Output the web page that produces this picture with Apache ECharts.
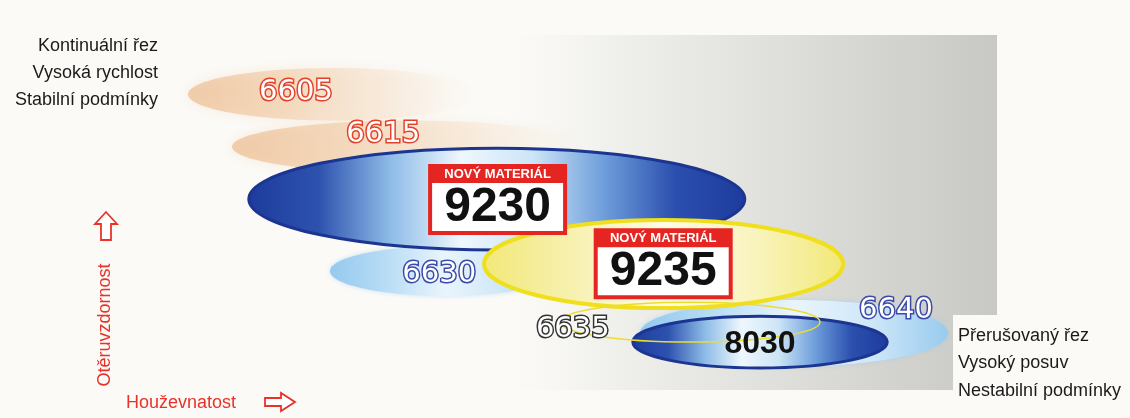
<!DOCTYPE html>
<html>
<head>
<meta charset="utf-8">
<script src="https://cdn.jsdelivr.net/npm/echarts@6/dist/echarts.min.js"></script>
<style>
  html, body { margin: 0; padding: 0; background: #fbfaf7; }
  #chart { width: 1130px; height: 418px; }
</style>
</head>
<body>
<div id="chart"></div>
<script>
// grades in drawing order (back to front)
const grades = ['6605', '6615', '6630', '9230', '6640', '9235', '8030', '6635'];
const families = ['orange', 'orange', 'lightblue', 'blue', 'lightblue', 'yellow', 'blue', 'ring'];
const isNew = [false, false, false, true, false, true, false, false];
// extent of each grade: toughness (x) and wear resistance (y), 0..100
const toughMin = [1, 6.5, 18.75, 8.6, 57.5, 38, 56.6, 47.5];
const toughMax = [37.5, 51, 47.5, 70.6, 96, 82.9, 88.4, 80];
const wearMin = [77, 62, 26.9, 40, 6.8, 23.4, 6.3, 13.7];
const wearMax = [92, 77, 41.1, 69.1, 25.7, 48.6, 21.1, 25.1];
// where the grade name sits
const labelX = [14.5, 25.4, 32.4, 39.7, 89.5, 60.4, 72.5, 49.1];
const labelY = [85.1, 73, 32.9, 54.4, 22.6, 36.1, 13.1, 17.4];

const topText = ['Kontinuální řez', 'Vysoká rychlost', 'Stabilní podmínky'];
const bottomText = ['Přerušovaný řez', 'Vysoký posuv', 'Nestabilní podmínky'];
const xName = 'Houževnatost';
const yName = 'Otěruvzdornost';
const newTag = 'NOVÝ MATERIÁL';

const grad = stops => ({type: 'linear', x: 0, y: 0, x2: 1, y2: 0, colorStops: stops.map((c, k) => ({offset: k / (stops.length - 1), color: c}))});

const familyStyle = {
    orange: {
        fill: grad(['rgba(236,188,144,0.7)', 'rgba(240,200,160,0.55)', 'rgba(243,214,184,0.3)', 'rgba(248,232,215,0)']),
        shadowBlur: 12, shadowColor: 'rgba(238,195,150,0.45)',
    },
    lightblue: {
        fill: grad(['#95c9ee', '#b9ddf5', '#e9f5fc', '#cfe7f8', '#98cbef']),
        shadowBlur: 5, shadowColor: 'rgba(150,200,240,0.5)',
    },
    blue: {
        fill: grad(['#1d3b9c', '#2d52ae', '#8dbbe7', '#eef7fd', '#cde5f7', '#6e9edb', '#2b4fae', '#1d3b9c']),
        stroke: '#1b3591', lineWidth: 3,
    },
    yellow: {
        fill: grad(['#f2e878', '#f7f1b0', '#fdfbe4', '#f9f4be', '#f2e878']),
        stroke: '#f0df1c', lineWidth: 4,
    },
    ring: {
        fill: 'none', stroke: '#eedc2c', lineWidth: 1.5,
    },
};

const outline = {
    '6605': '#e4412b', '6615': '#e4412b', '6630': '#3b4aa8',
    '6640': '#3b4aa8', '6635': '#333333',
};

const chart = echarts.init(document.getElementById('chart'));

const option = {
    backgroundColor: '#fbfaf7',
    animation: false,
    grid: {left: 180, right: 150, top: 40, bottom: 28},
    xAxis: {type: 'value', min: 0, max: 100, show: false},
    yAxis: {type: 'value', min: 0, max: 100, show: false},
    graphic: [
        // grey panel behind the grades
        {
            type: 'polygon', z: 0, silent: true,
            shape: {points: [[480, 35], [997, 35], [997, 315], [953, 315], [953, 390], [480, 390]]},
            style: {fill: grad(['rgba(251,250,247,0)', '#f0f0ec', '#e3e3df', '#d5d5d1', '#c8c9c5'])},
        },
        ...topText.map((t, k) => ({
            type: 'text', z: 5, x: 158, y: 46 + k * 27,
            style: {text: t, fill: '#1a1a1a', font: '18px "Liberation Sans", Arial', align: 'right', verticalAlign: 'middle'},
        })),
        ...bottomText.map((t, k) => ({
            type: 'text', z: 5, x: 958, y: 336 + k * 27.5,
            style: {text: t, fill: '#1a1a1a', font: '18px "Liberation Sans", Arial', align: 'left', verticalAlign: 'middle'},
        })),
        {
            type: 'text', z: 5, x: 105, y: 325, rotation: Math.PI / 2,
            style: {text: yName, fill: '#e8332a', font: '18px "Liberation Sans", Arial', align: 'center', verticalAlign: 'middle'},
        },
        {
            type: 'text', z: 5, x: 126, y: 403,
            style: {text: xName, fill: '#e8332a', font: '18px "Liberation Sans", Arial', align: 'left', verticalAlign: 'middle'},
        },
        {
            type: 'polygon', z: 5,
            shape: {points: [[106, 212], [117, 224], [111, 224], [111, 240], [101, 240], [101, 224], [95, 224]]},
            style: {fill: '#fff', stroke: '#e8332a', lineWidth: 1.8},
        },
        {
            type: 'polygon', z: 5,
            shape: {points: [[265, 398], [281, 398], [281, 393], [295, 402], [281, 411], [281, 406], [265, 406]]},
            style: {fill: '#fff', stroke: '#e8332a', lineWidth: 1.8},
        },
    ],
    series: [
        {
            type: 'custom',
            z: 2,
            silent: true,
            data: grades.map((g, i) => [toughMin[i], toughMax[i], wearMin[i], wearMax[i]]),
            renderItem: (params, api) => {
                const i = params.dataIndex;
                const p0 = api.coord([api.value(0), api.value(3)]);
                const p1 = api.coord([api.value(1), api.value(2)]);
                const st = familyStyle[families[i]];
                return {
                    type: 'ellipse',
                    z2: i,
                    shape: {cx: (p0[0] + p1[0]) / 2, cy: (p0[1] + p1[1]) / 2, rx: (p1[0] - p0[0]) / 2, ry: (p1[1] - p0[1]) / 2},
                    style: Object.assign({}, st),
                };
            },
        },
        {
            type: 'custom',
            z: 3,
            silent: true,
            data: grades.map((g, i) => [labelX[i], labelY[i]]),
            renderItem: (params, api) => {
                const i = params.dataIndex;
                const g = grades[i];
                const p = api.coord([api.value(0), api.value(1)]);
                if (isNew[i]) {
                    return {
                        type: 'group',
                        children: [
                            {type: 'rect', shape: {x: p[0] - 69.5, y: p[1] - 35.5, width: 139, height: 71}, style: {fill: '#e52521'}},
                            {type: 'rect', shape: {x: p[0] - 65.5, y: p[1] - 16.5, width: 131, height: 48}, style: {fill: '#ffffff'}},
                            {type: 'text', x: p[0], y: p[1] - 25.5,
                                style: {text: newTag, fill: '#fff', font: 'bold 13px "Liberation Sans", Arial', align: 'center', verticalAlign: 'middle'}},
                            {type: 'text', x: p[0], y: p[1] + 8.5,
                                style: {text: g, fill: '#111', font: 'bold 48px "Liberation Sans", Arial', align: 'center', verticalAlign: 'middle'}},
                        ],
                    };
                }
                if (!outline[g]) {
                    return {
                        type: 'text', x: p[0], y: p[1],
                        style: {text: g, fill: '#111', font: 'bold 32px "Liberation Sans", Arial', align: 'center', verticalAlign: 'middle'},
                    };
                }
                return {
                    type: 'text', x: p[0], y: p[1],
                    style: {
                        text: g, fill: '#ffffff', stroke: outline[g], lineWidth: 3, strokeFirst: true,
                        font: '29px "DejaVu Sans"', align: 'center', verticalAlign: 'middle',
                    },
                };
            },
        },
    ],
};

chart.setOption(option);
</script>
</body>
</html>
